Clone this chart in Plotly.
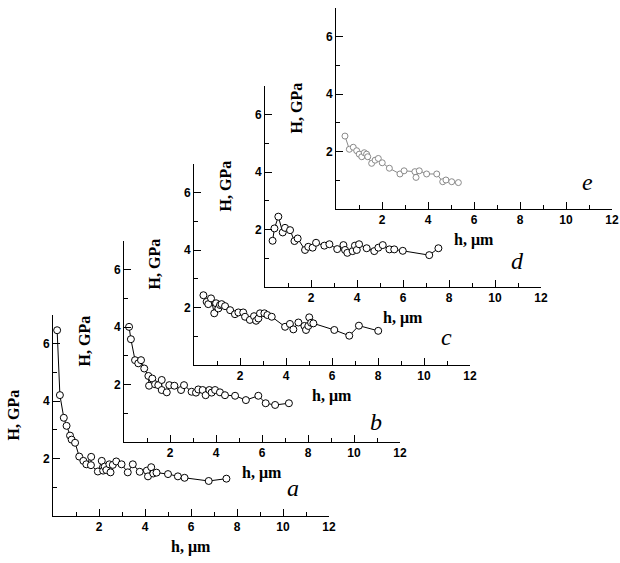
import plotly.graph_objects as go

# ---------------- data ----------------
a_h = [0.18, 0.30, 0.47, 0.59, 0.74, 0.81, 0.96, 1.14, 1.32, 1.45, 1.66, 1.65, 1.95, 2.12, 2.18, 2.25, 2.32, 2.45, 2.50, 2.60, 2.75, 2.98, 3.25, 3.47, 3.77, 4.08, 4.13, 4.27, 4.36, 4.50, 5.00, 5.43, 5.72, 6.77, 7.54]
a_H = [6.47, 4.21, 3.42, 3.14, 2.80, 2.66, 2.55, 2.07, 1.92, 1.80, 2.06, 1.77, 1.55, 1.92, 1.58, 1.72, 1.60, 1.80, 1.52, 1.78, 1.90, 1.80, 1.52, 1.80, 1.54, 1.58, 1.38, 1.70, 1.48, 1.51, 1.46, 1.38, 1.33, 1.22, 1.30]

b_h = [0.22, 0.30, 0.48, 0.62, 0.74, 0.88, 1.06, 1.09, 1.23, 1.35, 1.49, 1.64, 1.64, 1.86, 1.97, 2.19, 2.48, 2.61, 2.94, 3.13, 3.23, 3.42, 3.55, 3.71, 3.81, 3.96, 4.17, 4.39, 4.83, 5.30, 5.84, 6.16, 6.57, 7.17]
b_H = [4.01, 3.58, 2.85, 2.74, 2.85, 2.56, 2.30, 1.96, 2.21, 2.01, 1.98, 2.16, 1.81, 1.73, 1.98, 1.96, 1.81, 1.98, 1.75, 1.72, 1.83, 1.81, 1.63, 1.81, 1.72, 1.81, 1.73, 1.63, 1.61, 1.46, 1.61, 1.35, 1.29, 1.35]

c_h = [0.41, 0.55, 0.62, 0.74, 0.88, 0.96, 1.06, 1.13, 1.20, 1.35, 1.57, 1.78, 1.93, 2.14, 2.22, 2.43, 2.61, 2.70, 2.80, 2.87, 3.06, 3.19, 3.38, 3.96, 4.17, 4.32, 4.54, 4.80, 4.87, 4.97, 5.01, 5.09, 5.19, 6.10, 6.75, 7.17, 8.01]
c_H = [2.43, 2.20, 2.12, 2.32, 1.80, 2.15, 1.97, 2.09, 2.12, 2.05, 1.91, 1.77, 1.83, 1.83, 1.68, 1.57, 1.70, 1.54, 1.62, 1.80, 1.80, 1.74, 1.68, 1.33, 1.43, 1.24, 1.48, 1.36, 1.22, 1.36, 1.66, 1.47, 1.45, 1.22, 1.02, 1.37, 1.19]

d_h = [0.33, 0.41, 0.58, 0.77, 0.87, 1.09, 1.28, 1.42, 1.74, 1.88, 2.07, 2.22, 2.58, 2.80, 3.14, 3.41, 3.48, 3.58, 3.81, 3.91, 3.99, 4.09, 4.42, 4.75, 4.93, 5.12, 5.41, 5.62, 5.99, 7.14, 7.54]
d_H = [1.61, 2.04, 2.45, 1.90, 2.06, 1.98, 1.60, 1.69, 1.29, 1.40, 1.37, 1.54, 1.44, 1.49, 1.32, 1.46, 1.29, 1.19, 1.25, 1.44, 1.29, 1.49, 1.35, 1.25, 1.37, 1.46, 1.31, 1.31, 1.26, 1.11, 1.35]

e_h = [0.39, 0.58, 0.75, 0.90, 1.01, 1.12, 1.23, 1.33, 1.38, 1.55, 1.70, 1.84, 2.01, 2.32, 2.78, 2.96, 3.43, 3.48, 3.62, 3.94, 4.38, 4.64, 4.78, 5.03, 5.32]
e_H = [2.54, 2.08, 2.15, 2.03, 1.91, 1.82, 1.96, 1.91, 1.82, 1.59, 1.70, 1.76, 1.61, 1.42, 1.22, 1.33, 1.30, 1.10, 1.33, 1.22, 1.22, 0.95, 1.01, 0.95, 0.92]

panel_labels = ["a", "b", "c", "d", "e"]
x_ticks = [2, 4, 6, 8, 10, 12]
x_minor = [1, 3, 5, 7, 9, 11]
y_ticks = [2, 4, 6]
y_minor = [1, 3, 5, 7]
x_title = "h, μm"
y_title = "H, GPa"

# ---------------- layout geometry (pixels) ----------------
W, H = 620, 563
origins = [(53, 516), (124, 442), (194, 365), (265, 287), (336, 209)]
PW, PH = 276, 201
letter_pos = [(240, -28), (252, -20), (252, -28), (252, -26), (251, -27)]

series = [(a_h, a_H), (b_h, b_H), (c_h, c_H), (d_h, d_H), (e_h, e_H)]
colors = ["black", "black", "black", "black", "#8a8a8a"]
msizes = [7, 7, 7, 7, 6]

fig = go.Figure()
annotations = []
layout = {}
for i, ((hx, hy), (ox, oy)) in enumerate(zip(series, origins)):
    n = "" if i == 0 else str(i + 1)
    col = colors[i]
    fig.add_trace(go.Scatter(
        x=hx, y=hy, mode="lines+markers",
        xaxis="x" + n, yaxis="y" + n,
        line=dict(color=col, width=1),
        marker=dict(symbol="circle", size=msizes[i], color="white",
                    line=dict(color=col, width=1)),
        showlegend=False, cliponaxis=False))
    xd = [ox / W, (ox + PW) / W]
    yd = [(H - oy) / H, (H - oy + PH) / H]
    tickfont = dict(family="Liberation Sans", size=12, color="black", weight="bold")
    layout["xaxis" + n] = dict(
        domain=xd, range=[0, 12], anchor="y" + n,
        showline=True, linecolor="black", linewidth=1, mirror=False,
        showgrid=False, zeroline=False,
        ticks="inside", ticklen=7, tickcolor="black", tickwidth=1,
        tickmode="array", tickvals=x_ticks, tickfont=tickfont,
        minor=dict(ticks="inside", ticklen=4, tickcolor="black",
                   tickmode="array", tickvals=x_minor, showgrid=False))
    layout["yaxis" + n] = dict(
        domain=yd, range=[0, 7], anchor="x" + n,
        showline=True, linecolor="black", linewidth=1, mirror=False,
        showgrid=False, zeroline=False,
        ticks="inside", ticklen=7, tickcolor="black", tickwidth=1,
        tickmode="array", tickvals=y_ticks, tickfont=tickfont,
        minor=dict(ticks="inside", ticklen=4, tickcolor="black",
                   tickmode="array", tickvals=y_minor, showgrid=False))
    tfont = dict(family="Liberation Serif", size=16, color="black", weight="bold")
    annotations.append(dict(
        text=y_title, xref="paper", yref="paper",
        x=(ox - 40) / W, y=(H - (oy - PH / 2)) / H,
        xanchor="center", yanchor="middle", textangle=-90,
        showarrow=False, font=tfont))
    annotations.append(dict(
        text=x_title, xref="paper", yref="paper",
        x=(ox + 138) / W, y=(H - (oy + 31)) / H,
        xanchor="center", yanchor="middle",
        showarrow=False, font=tfont))
    lx, ly = letter_pos[i]
    annotations.append(dict(
        text="<i>" + panel_labels[i] + "</i>", xref="paper", yref="paper",
        x=(ox + lx) / W, y=(H - (oy + ly)) / H,
        xanchor="center", yanchor="middle",
        showarrow=False,
        font=dict(family="Liberation Serif", size=24, color="black")))

fig.update_layout(
    width=W, height=H,
    margin=dict(l=0, r=0, t=0, b=0, pad=0, autoexpand=False),
    paper_bgcolor="white", plot_bgcolor="rgba(0,0,0,0)",
    annotations=annotations,
    **layout)

fig.write_html("out.html",
               config={"displayModeBar": False},
               post_script="document.body.style.margin='0';document.body.style.overflow='hidden';")
